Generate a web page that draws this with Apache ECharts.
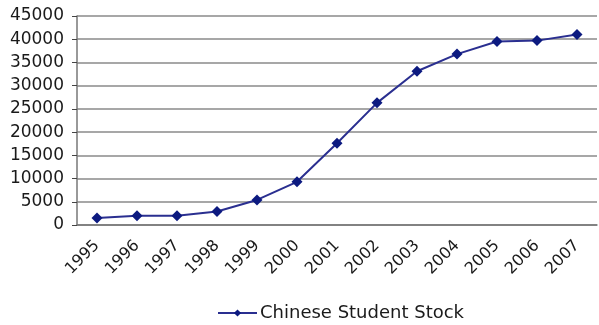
<!DOCTYPE html>
<html>
<head>
<meta charset="utf-8">
<script src="https://cdn.jsdelivr.net/npm/echarts@6/dist/echarts.min.js"></script>
<style>
  html, body { margin: 0; padding: 0; background: #fff; }
  #chart { width: 599px; height: 325px; }
</style>
</head>
<body>
<div id="chart"></div>
<script>
var years = ['1995', '1996', '1997', '1998', '1999', '2000', '2001',
	'2002', '2003', '2004', '2005', '2006', '2007'];
var studentStock = [1500, 2000, 2000, 2900, 5400, 9300, 17600,
	26300, 33100, 36800, 39500, 39700, 41000];
var seriesName = 'Chinese Student Stock';

var chart = echarts.init(document.getElementById('chart'));
chart.setOption({
	animation: false,
	textStyle: { fontFamily: 'DejaVu Sans' },
	grid: { left: 77, right: 2, top: 16, bottom: 100 },
	legend: {
		top: 299,
		left: 212,
		data: [seriesName],
		itemWidth: 39,
		itemHeight: 9,
		itemGap: 4,
		textStyle: { fontSize: 18, color: '#1a1a1a', padding: [0, 0, 0, -2] }
	},
	xAxis: {
		type: 'category',
		data: years,
		boundaryGap: true,
		axisLine: { lineStyle: { color: '#777', width: 1.5 } },
		axisTick: { length: 6, lineStyle: { color: '#444' } },
		axisLabel: { rotate: 45, fontSize: 16, color: '#1a1a1a', margin: 18, interval: 0 }
	},
	yAxis: {
		type: 'value',
		min: 0,
		max: 45000,
		interval: 5000,
		axisLine: { show: true, lineStyle: { color: '#777', width: 1.5 } },
		axisTick: { show: true, length: 5, lineStyle: { color: '#444' } },
		axisLabel: {
			fontSize: 17, color: '#1a1a1a', margin: 13,
			formatter: function(v) { return String(v); }
		},
		splitLine: { lineStyle: { color: '#8a8a8a', width: 1.5 } }
	},
	series: [{
		name: seriesName,
		type: 'line',
		data: studentStock,
		symbol: 'diamond',
		symbolSize: 11,
		itemStyle: { color: '#0c1a80' },
		lineStyle: { color: '#2a2f90', width: 2 }
	}]
});
</script>
</body>
</html>
